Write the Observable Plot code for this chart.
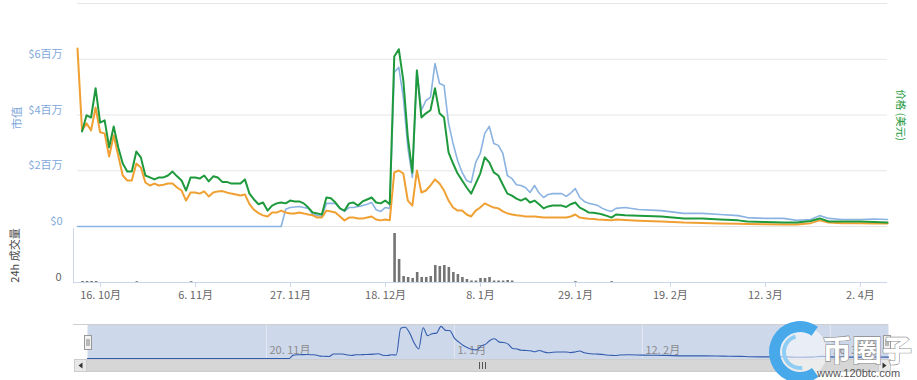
<!DOCTYPE html>
<html><head><meta charset="utf-8">
<script src="https://cdn.jsdelivr.net/npm/d3@7"></script>
<script src="https://cdn.jsdelivr.net/npm/@observablehq/plot@0.6"></script>
<style>
html,body{margin:0;padding:0;background:#fff;}
#wrap{position:relative;width:917px;height:380px;overflow:hidden;font-family:"Noto Sans CJK SC","Noto Sans",sans-serif;}
#wrap svg{position:absolute;left:0;overflow:visible;}
</style></head><body><div id="wrap"></div>
<script>
// ---- data ($ millions on the left axis scale) ----
const dates = [
"2017-10-11","2017-10-12","2017-10-13","2017-10-14","2017-10-15","2017-10-16","2017-10-17","2017-10-18","2017-10-19","2017-10-20",
"2017-10-21","2017-10-22","2017-10-23","2017-10-24","2017-10-25","2017-10-26","2017-10-27","2017-10-28","2017-10-29","2017-10-30",
"2017-10-31","2017-11-01","2017-11-02","2017-11-03","2017-11-04","2017-11-05","2017-11-06","2017-11-07","2017-11-08","2017-11-09",
"2017-11-10","2017-11-11","2017-11-12","2017-11-13","2017-11-14","2017-11-15","2017-11-16","2017-11-17","2017-11-18","2017-11-19",
"2017-11-20","2017-11-21","2017-11-22","2017-11-23","2017-11-24","2017-11-25","2017-11-26","2017-11-27","2017-11-28","2017-11-29",
"2017-11-30","2017-12-01","2017-12-02","2017-12-03","2017-12-04","2017-12-05","2017-12-06","2017-12-07","2017-12-08","2017-12-09",
"2017-12-10","2017-12-11","2017-12-12","2017-12-13","2017-12-14","2017-12-15","2017-12-16","2017-12-17","2017-12-18","2017-12-19",
"2017-12-20","2017-12-21","2017-12-22","2017-12-23","2017-12-24","2017-12-25","2017-12-26","2017-12-27","2017-12-28","2017-12-29",
"2017-12-30","2017-12-31","2018-01-01","2018-01-02","2018-01-03","2018-01-04","2018-01-05","2018-01-06","2018-01-07","2018-01-08",
"2018-01-09","2018-01-10","2018-01-11","2018-01-12","2018-01-13","2018-01-14","2018-01-15","2018-01-16","2018-01-17","2018-01-18",
"2018-01-19","2018-01-20","2018-01-21","2018-01-22","2018-01-23","2018-01-24","2018-01-25","2018-01-26","2018-01-27","2018-01-28",
"2018-01-29","2018-01-30","2018-01-31","2018-02-01","2018-02-02","2018-02-03","2018-02-04","2018-02-05","2018-02-06","2018-02-07",
"2018-02-09","2018-02-12","2018-02-17","2018-02-22","2018-02-26","2018-03-02","2018-03-06","2018-03-08","2018-03-12","2018-03-16",
"2018-03-19","2018-03-22","2018-03-24","2018-03-26","2018-03-29","2018-04-02","2018-04-05","2018-04-08"
];
const marketCap = [
0,0,0,0,0,0,0,0,0,0,
0,0,0,0,0,0,0,0,0,0,
0,0,0,0,0,0,0,0,0,0,
0,0,0,0,0,0,0,0,0,0,
0,0,0,0,0,0,0.62,0.68,0.70,0.72,
0.68,0.65,0.43,0.40,0.36,0.83,0.83,0.83,0.65,0.54,
0.68,0.68,0.72,0.75,0.80,0.86,0.60,0.54,0.68,0.65,
5.53,5.71,4.63,2.84,1.76,5.60,4.17,4.52,4.63,5.85,
5.13,5.06,3.70,2.98,2.37,1.94,1.65,1.58,2.30,2.62,
3.34,3.59,2.98,2.91,2.62,1.83,1.72,1.50,1.47,1.40,
1.22,1.47,1.20,1.04,1.15,1.18,1.18,1.18,1.08,1.20,
1.36,1.04,0.90,0.83,0.80,0.75,0.65,0.58,0.54,0.65,
0.68,0.61,0.57,0.47,0.47,0.43,0.39,0.32,0.29,0.29,
0.22,0.25,0.39,0.29,0.25,0.25,0.27,0.25
];
// price (USD), drawn against the unlabeled right axis, expressed on the same vertical scale
const priceUsd = [
null,3.41,3.99,3.91,4.96,3.73,3.81,2.84,3.59,2.84,
2.26,1.97,1.97,2.69,2.48,1.83,1.76,1.69,1.76,1.76,
1.83,1.97,1.80,1.65,1.29,1.76,1.76,1.72,1.83,1.62,
1.80,1.76,1.60,1.60,1.54,1.54,1.54,1.69,1.18,0.97,
0.80,0.86,0.57,0.75,0.83,0.86,0.83,0.93,0.90,0.90,
0.83,0.68,0.50,0.47,0.43,1.04,1.01,0.86,0.65,0.57,
0.83,0.86,0.75,0.90,0.97,1.04,0.86,0.83,0.93,0.80,
6.10,6.36,5.24,3.20,1.94,5.60,3.91,4.06,4.17,4.96,
4.06,3.91,2.66,2.26,1.90,1.65,1.40,1.18,1.54,1.90,
2.48,2.30,1.94,1.83,1.50,1.18,1.11,1.00,0.93,1.01,
0.86,0.93,0.80,0.65,0.72,0.75,0.75,0.75,0.70,0.80,
0.86,0.68,0.60,0.50,0.49,0.47,0.43,0.38,0.32,0.43,
0.40,0.39,0.36,0.29,0.29,0.25,0.22,0.18,0.16,0.14,
0.14,0.20,0.29,0.18,0.18,0.18,0.16,0.14
];
const priceBtc = [
6.39,3.45,3.70,3.45,4.27,3.38,3.34,2.51,3.27,2.55,
1.83,1.65,1.65,2.26,2.12,1.58,1.47,1.54,1.47,1.50,
1.54,1.54,1.40,1.29,0.93,1.22,1.22,1.18,1.26,1.08,
1.22,1.26,1.27,1.22,1.18,1.15,1.11,1.15,0.80,0.60,
0.48,0.40,0.36,0.50,0.50,0.57,0.50,0.47,0.47,0.50,
0.47,0.43,0.40,0.32,0.32,0.57,0.54,0.50,0.36,0.22,
0.32,0.32,0.29,0.29,0.32,0.36,0.25,0.22,0.25,0.22,
1.94,2.01,1.90,0.93,0.75,2.01,1.22,1.29,1.47,1.69,
1.54,1.29,0.93,0.68,0.57,0.57,0.43,0.36,0.57,0.68,
0.83,0.75,0.68,0.65,0.54,0.47,0.43,0.40,0.39,0.36,
0.36,0.36,0.34,0.32,0.32,0.32,0.32,0.32,0.32,0.36,
0.43,0.32,0.30,0.28,0.27,0.25,0.24,0.23,0.22,0.25,
0.23,0.21,0.18,0.14,0.13,0.11,0.10,0.09,0.08,0.07,
0.07,0.12,0.22,0.14,0.12,0.12,0.11,0.11
];
const volDates = [
"2017-10-12","2017-10-13","2017-10-14","2017-10-15","2017-10-24","2017-11-05",
"2017-12-20","2017-12-21","2017-12-22","2017-12-23","2017-12-24","2017-12-25","2017-12-26","2017-12-27","2017-12-28","2017-12-29",
"2017-12-30","2017-12-31","2018-01-01","2018-01-02","2018-01-03","2018-01-04","2018-01-05","2018-01-06","2018-01-07","2018-01-08",
"2018-01-09","2018-01-10","2018-01-11","2018-01-12","2018-01-13","2018-01-14","2018-01-15","2018-01-29","2018-02-06"
];
const volume = [
1,1,1,1,0.8,0.8,
49,23,6,5,4,10,5,5,6,17,
16,17,15,10,8,5,3,1.5,1.5,4,
4,5,1.5,1.5,1.5,2,1.5,0.8,0.8
];
const xTickDates = ["2017-10-16","2017-11-06","2017-11-27","2017-12-18","2018-01-08","2018-01-29","2018-02-19","2018-03-12","2018-04-02"];
const navTickDates = ["2017-11-20","2018-01-01","2018-02-12","2018-03-26"];
const yTicks = [0, 2, 4, 6];
const yGrid = [0, 2, 4, 6, 8];

// ---- build ----
const parse = d3.utcParse("%Y-%m-%d");
const rows = dates.map((d, i) => ({date: parse(d), marketCap: marketCap[i], priceUsd: priceUsd[i], priceBtc: priceBtc[i]}));
const volRows = volDates.map((d, i) => ({date: parse(d), volume: volume[i]}));
const xTicks = xTickDates.map(parse);
const navTicks = navTickDates.map(parse);
const fmt = d => `${d.getUTCDate()}. ${d.getUTCMonth() + 1}月`;
const font = '"Noto Sans CJK SC","Noto Sans",sans-serif';
const baseStyle = {fontFamily: font, fontSize: "11px", background: "transparent", overflow: "visible"};
const blue = "#8bb3e2", green = "#1e9a3d", orange = "#f0a032", axisBlue = "#7fa8db";
const wrap = document.getElementById("wrap");

function place(svg, top) { svg.style.position = "absolute"; svg.style.top = top + "px"; svg.style.left = "0px"; wrap.appendChild(svg); }

const vol = Plot.plot({
  width: 917, height: 80, marginTop: 2, marginBottom: 24, marginLeft: 73, marginRight: 30,
  style: baseStyle,
  x: {type: "utc", domain: [parse("2017-10-10"), parse("2018-04-08")], axis: null},
  y: {domain: [0, 54], axis: null},
  marks: [
    Plot.ruleY([0], {stroke: "#ccd6eb"}),
    Plot.ruleX([parse("2017-10-10")], {stroke: "#ccd6eb"}),
    Plot.axisX(xTicks, {tickSize: 5, tickPadding: 4, tickFormat: fmt, stroke: "#ccd6eb", fill: "#666", fontSize: 11, label: null}),
    Plot.ruleX(volRows, {x: "date", y1: 0, y2: "volume", stroke: "#747474", strokeWidth: 2.6}),
    Plot.axisY([0], {tickSize: 0, tickPadding: 12, dy: -5, fill: "#666", fontSize: 11, label: null}),
    Plot.text(["24h 成交量"], {frameAnchor: "left", textAnchor: "middle", dx: -58, rotate: -90, fill: "#444", fontSize: 11})
  ]
});
place(vol, 226);

const main = Plot.plot({
  width: 917, height: 228, marginTop: 3, marginBottom: 2, marginLeft: 77, marginRight: 30,
  style: baseStyle,
  x: {type: "utc", domain: [parse("2017-10-11"), parse("2018-04-08")], axis: null},
  y: {domain: [0, 8], axis: null},
  marks: [
    Plot.gridY(yGrid, {stroke: "#e6e6e6", strokeOpacity: 1}),
    Plot.axisY(yTicks, {tickSize: 0, tickPadding: 15, dy: -5, fill: axisBlue, fontSize: 11, label: null,
      tickFormat: d => d === 0 ? "$0" : `$${d}百万`}),
    Plot.lineY(rows, {x: "date", y: "marketCap", stroke: blue, strokeWidth: 1.6}),
    Plot.lineY(rows, {x: "date", y: "priceBtc", stroke: orange, strokeWidth: 2}),
    Plot.lineY(rows, {x: "date", y: "priceUsd", stroke: green, strokeWidth: 2}),
    Plot.text(["市值"], {frameAnchor: "left", textAnchor: "middle", dx: -60, dy: 3, rotate: -90, fill: axisBlue, fontSize: 11.5}),
    Plot.text(["价格 (美元)"], {frameAnchor: "right", textAnchor: "middle", dx: 13, rotate: 90, fill: green, fontSize: 10.5})
  ]
});
place(main, 0);

const nav = Plot.plot({
  width: 917, height: 56, marginTop: 8, marginBottom: 14, marginLeft: 87, marginRight: 29,
  style: baseStyle,
  x: {type: "utc", domain: [parse("2017-10-11"), parse("2018-04-08")], axis: null},
  y: {domain: [0, 6.2], axis: null},
  marks: [
    Plot.frame({fill: "rgba(102,133,194,0.32)", stroke: null, insetBottom: -1}),
    Plot.gridX(navTicks, {stroke: "#e4e8f2", strokeOpacity: 1}),
    Plot.text(navTicks, {x: d => d, frameAnchor: "bottom", dx: 3, dy: -5, textAnchor: "start", text: fmt, fill: "#8a8a8a", fontSize: 11}),
    Plot.lineY(rows, {x: "date", y: "marketCap", stroke: "#335cad", strokeWidth: 1.1, curve: "monotone-x"})
  ]
});
place(nav, 316);

// ---- navigator chrome and watermark ----
const ov = d3.create("svg").attr("width", 917).attr("height", 380)
  .style("position", "absolute").style("top", "0px").style("left", "0px").style("font-family", font);
ov.append("line").attr("x1", 73).attr("x2", 888).attr("y1", 324.5).attr("y2", 324.5).attr("stroke", "#cfcfcf");
ov.append("rect").attr("x", 74.5).attr("y", 359.5).attr("width", 816).attr("height", 12).attr("fill", "#d6d6d6").attr("stroke", "#cccccc");
ov.append("rect").attr("x", 74.5).attr("y", 359.5).attr("width", 12).attr("height", 12).attr("fill", "#e8e8e8").attr("stroke", "#cccccc");
ov.append("path").attr("d", "M82.5,362.5 L78.5,365.5 L82.5,368.5 Z").attr("fill", "#333");
ov.append("rect").attr("x", 878.5).attr("y", 359.5).attr("width", 12).attr("height", 12).attr("fill", "#e8e8e8").attr("stroke", "#cccccc");
ov.append("path").attr("d", "M882.5,362.5 L886.5,365.5 L882.5,368.5 Z").attr("fill", "#333");
[479.5, 482.5, 485.5].forEach(x => ov.append("line").attr("x1", x).attr("x2", x).attr("y1", 362).attr("y2", 369).attr("stroke", "#333").attr("stroke-width", 0.8));
[84.5, 883.5].forEach(x => {
  ov.append("rect").attr("x", x).attr("y", 335.5).attr("width", 7).attr("height", 14).attr("fill", "#f2f2f2").attr("stroke", "#999");
  [x + 2.5, x + 4.5].forEach(lx => ov.append("line").attr("x1", lx).attr("x2", lx).attr("y1", 339).attr("y2", 346).attr("stroke", "#333").attr("stroke-width", 0.6));
});
// watermark
const wm = ov.append("g").attr("transform", "translate(800,352)");
wm.append("circle").attr("r", 27).attr("fill", "rgba(255,255,255,0.55)");
wm.append("path").attr("d", d3.arc()({innerRadius: 20, outerRadius: 31, startAngle: 2.5, endAngle: 6.9})).attr("fill", "#47a8ea");
wm.append("path").attr("d", d3.arc()({innerRadius: 14, outerRadius: 18, startAngle: 3.0, endAngle: 6.0})).attr("fill", "#8fcdf5");
ov.append("text").attr("x", 822).attr("y", 361).attr("font-size", 30).attr("font-weight", "bold")
  .attr("fill", "#ffffff").attr("stroke", "#8c8c8c").attr("stroke-width", 1.2).attr("paint-order", "stroke").text("币圈子");
ov.append("text").attr("x", 817).attr("y", 377).attr("font-size", 11).attr("fill", "#555").attr("font-family", "Liberation Sans, sans-serif").text("www.120btc.com");
wrap.appendChild(ov.node());
</script></body></html>
